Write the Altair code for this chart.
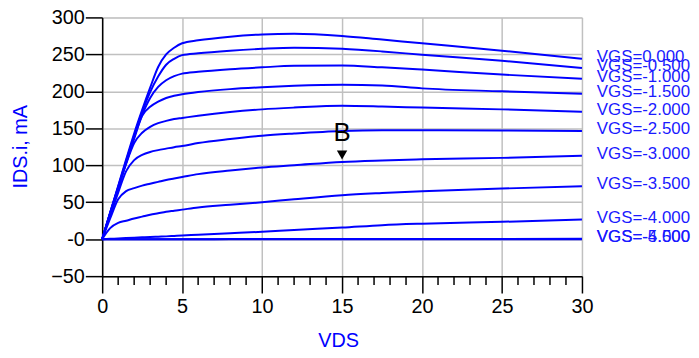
import altair as alt
import pandas as pd

# ---------------- data ----------------
vds = [0, 0.5, 1, 1.5, 2, 2.5, 3, 3.5, 4, 4.5, 5, 6, 8, 10, 12, 15, 17.5, 20, 25, 30]

vgs_names = ["VGS=0.000", "VGS=-0.500", "VGS=-1.000", "VGS=-1.500", "VGS=-2.000",
             "VGS=-2.500", "VGS=-3.000", "VGS=-3.500", "VGS=-4.000", "VGS=-4.500",
             "VGS=-5.000"]

ids_0_0 = [0, 36, 72, 108, 143, 175, 205, 233, 250, 259, 265, 269, 274, 277, 278, 275, 270, 265, 255, 244]
ids_0_5 = [0, 36, 71, 106, 140, 172, 199, 220, 236, 244, 249, 251.5, 255, 257.5, 259, 257.5, 254, 249.5, 241.5, 231.6]
ids_1_0 = [0, 35, 70, 104, 138, 168, 191, 206, 215, 220.5, 224, 226.5, 230, 232.5, 234.5, 235, 232.5, 229.4, 222.7, 217]
ids_1_5 = [0, 35, 69, 103, 136, 167, 179, 186, 191, 194, 196, 199, 203, 205.6, 207.5, 209, 208, 204, 200, 196.6]
ids_2_0 = [0, 35, 69, 102, 130, 144, 152, 157, 160, 162.5, 164, 167, 172, 175.6, 178, 180.5, 179.5, 178, 175.6, 172.5]
ids_2_5 = [0, 32, 63, 92, 107, 114, 118, 120.5, 122.5, 124.5, 126, 130, 135.5, 140, 143, 146.5, 147.5, 147.5, 147, 146.5]
ids_3_0 = [0, 28, 54, 65, 69, 72.5, 75, 77.5, 80, 82, 84, 88, 93, 97, 100, 104.5, 106.5, 108, 110, 113]
ids_3_5 = [0, 15, 22, 25, 28, 30.5, 33, 35, 37, 38.5, 40, 43, 46.5, 50, 54, 59.5, 62.5, 65, 68.5, 71.6]
ids_4_0 = [0, 0.5, 1, 1.5, 2, 2.5, 3, 3.4, 3.8, 4.4, 5, 6, 8, 10, 12.5, 15.7, 19, 21, 23.5, 26.5]
ids_4_5 = [0, 0, 0, 0, 0, 0, 0, 0, 0, 0, 0, 0, 0.1, 0.1, 0.2, 0.2, 0.3, 0.3, 0.4, 0.5]
ids_5_0 = [0, 0, 0, 0, 0, 0, 0, 0, 0, 0, 0, 0, 0, 0, 0, 0, 0, 0, 0, 0]

series = [ids_0_0, ids_0_5, ids_1_0, ids_1_5, ids_2_0, ids_2_5, ids_3_0,
          ids_3_5, ids_4_0, ids_4_5, ids_5_0]

x_major = [0, 5, 10, 15, 20, 25, 30]
x_minor = [1, 2, 3, 4, 6, 7, 8, 9, 11, 12, 13, 14, 16, 17, 18, 19, 21, 22, 23, 24, 26, 27, 28, 29]
y_ticks = [-50, 0, 50, 100, 150, 200, 250, 300]

marker_vds = [15]
marker_ids = [114]
marker_text = ["B"]

# ---------------- tables ----------------
rows = []
for name, vals in zip(vgs_names, series):
    for xv, yv in zip(vds, vals):
        rows.append({"vgs": name, "vds": xv, "ids": yv})
df = pd.DataFrame(rows)

end_df = pd.DataFrame({"vgs": vgs_names, "vds": [vds[-1]] * len(vgs_names),
                       "ids": [s[-1] for s in series]})
minor_df = pd.DataFrame({"vds": x_minor})
marker_df = pd.DataFrame({"vds": marker_vds, "ids": marker_ids, "t": marker_text})

FONT = "Liberation Sans"
BLUE = "#0000ff"
W, H = 484, 261

xscale = alt.Scale(domain=[0, 30], nice=False, zero=False)
yscale = alt.Scale(domain=[-50, 300], nice=False, zero=False)

xaxis = alt.Axis(values=x_major, tickSize=17, tickColor="black", tickWidth=1.5,
                 domainColor="black", domainWidth=1.5,
                 grid=True, gridColor="#c0c0c0", gridWidth=1.5,
                 labelFont=FONT, labelFontSize=20, labelColor="black", labelPadding=4,
                 labelFlush=False, labelOverlap=False,
                 title="VDS", titleFont=FONT, titleFontSize=20, titleFontWeight="normal",
                 titleColor=BLUE, titleX=238, titleY=65, titleBaseline="middle",
                 titleAlign="center")
yaxis = alt.Axis(values=y_ticks, tickSize=17, tickColor="black", tickWidth=1.5,
                 domainColor="black", domainWidth=1.5,
                 grid=True, gridColor="#c0c0c0", gridWidth=1.5,
                 labelFont=FONT, labelFontSize=20, labelColor="black", labelPadding=1,
                 labelFlush=False, labelOverlap=False,
                 labelExpr="datum.value == 0 ? '-0' : datum.label",
                 title="IDS.i, mA", titleFont=FONT, titleFontSize=20,
                 titleFontWeight="normal", titleColor=BLUE, titleAngle=270,
                 titleX=-82, titleY=130, titleAlign="center", titleBaseline="middle")

X = alt.X("vds:Q", scale=xscale, axis=xaxis)
Y = alt.Y("ids:Q", scale=yscale, axis=yaxis)

lines = alt.Chart(df).mark_line(color=BLUE, strokeWidth=2, interpolate="monotone").encode(
    x=X, y=Y, detail="vgs:N",
)

minor = alt.Chart(minor_df).mark_rule(color="black", strokeWidth=1.5).encode(
    x=X,
    y=alt.value(H),
    y2=alt.value(H + 9),
)

labels = alt.Chart(end_df).mark_text(align="left", baseline="middle", dx=15, dy=-2,
                                     font=FONT, fontSize=17, color="#1a1aff").encode(
    x=X, y=Y, text="vgs:N",
)

marker = alt.Chart(marker_df).mark_point(shape="triangle-down", filled=True, color="black",
                                         opacity=1, size=110).encode(
    x=X, y=Y,
)

marker_lbl = alt.Chart(marker_df).mark_text(baseline="middle", align="center", dy=-22,
                                            font=FONT, fontSize=26, color="black").encode(
    x=X, y=Y, text="t:N",
)

chart = alt.layer(lines, minor, labels, marker, marker_lbl).properties(
    width=W, height=H,
    autosize=alt.AutoSizeParams(type="none"),
    padding={"left": 95, "top": 8, "right": 110, "bottom": 73},
).configure_view(stroke="black", strokeWidth=1.5).configure(background="white")

chart.save("out.html", embed_options={"renderer": "svg", "actions": False})
